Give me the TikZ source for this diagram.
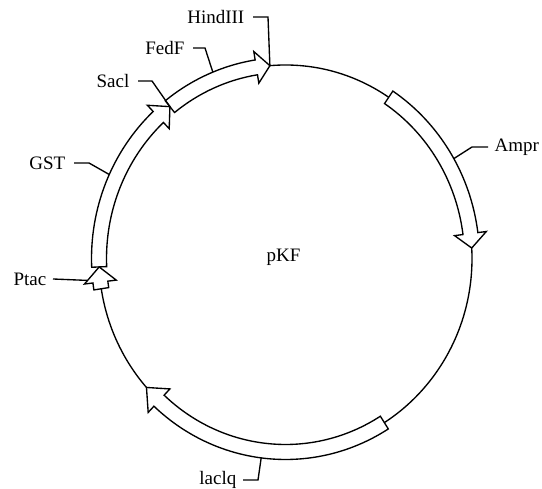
\documentclass[tikz,border=0pt]{standalone}
\usepackage{fontspec}
\setmainfont{Liberation Serif}
\usetikzlibrary{positioning}

% gene arrow on the plasmid ring: #1 tail angle, #2 head base angle, #3 tip angle
\newcommand{\genearrow}[3]{%
  \filldraw[feature] (#1:194pt and 201pt)
    arc[start angle=#1, end angle=#2, x radius=194pt, y radius=201pt]
    -- (#2:202.5pt and 209.5pt) -- (#3:186.5pt and 193.5pt)
    -- (#2:170.5pt and 177.5pt) -- (#2:179pt and 186pt)
    arc[start angle=#2, end angle=#1, x radius=179pt, y radius=186pt] -- cycle;}

\begin{document}
\begin{tikzpicture}[x=1pt, y=1pt, line width=1.35pt, line join=miter,
    lbl/.style={font=\fontsize{19}{22}\selectfont, inner xsep=8pt, inner ysep=0pt},
    feature/.style={fill=white, draw=black}]

  % --- Frame ---
  \useasboundingbox (0,0) rectangle (542,489);

  % --- Plasmid ring and features ---
  \begin{scope}[shift={(285.5,230.5)}]
    \draw (0,0) ellipse [x radius=186.5pt, y radius=193.5pt];

    \genearrow{128.3}{99}{94.8}    % FedF
    \genearrow{182.5}{133}{128.3}  % GST
    \genearrow{189}{187}{182.5}    % Ptac
    \genearrow{56.4}{7.4}{3.1}     % Ampr
    \genearrow{-58}{-132.7}{-138.2} % lacIq

    % points where the leaders meet the ring
    \coordinate (hindiiisite) at (94.8:186.5pt and 193.5pt);
    \coordinate (fedfsite) at (112:194pt and 201pt);
    \coordinate (sacisite) at (128.3:186.5pt and 193.5pt);
    \coordinate (gstsite) at (155.3:194pt and 201pt);
    \coordinate (ptacsite) at (186.1:199.3pt and 206.3pt);
    \coordinate (amprsite) at (29.8:194pt and 201pt);
    \coordinate (laciqsite) at (-97.2:194pt and 201pt);

    \node[lbl, inner xsep=0pt] (pkf) at (-2,1.5) {pKF};
  \end{scope}

  % --- Labels ---
  \node[lbl, anchor=east] (hindiii) at (253,472) {HindIII};
  \node[lbl, anchor=east] (fedf) at (193,441) {FedF};
  \node[lbl, anchor=east] (saci) at (138,408) {Sacl};
  \node[lbl, anchor=east] (gst) at (74,326) {GST};
  \node[lbl, anchor=east, inner xsep=6pt] (ptac) at (53,210) {Ptac};
  \node[lbl, anchor=west, inner xsep=6pt] (ampr) at (488,342) {Ampr};
  \node[lbl, anchor=east, inner xsep=6pt] (laciq) at (243,9) {laclq};

  % --- Leaders ---
  \draw (hindiii.east) -- ++(15,0) -- (hindiiisite);
  \draw (fedf.east) -- ++(12,0) -- (fedfsite);
  \draw (saci.east) -- ++(14,0) -- (sacisite);
  \draw (gst.east) -- ++(15,0) -- (gstsite);
  \draw (ptac.east) -- (ptacsite);
  \draw (ampr.west) -- ++(-16,0) -- (amprsite);
  \draw (laciq.east) -- ++(15,0) -- (laciqsite);

\end{tikzpicture}
\end{document}
